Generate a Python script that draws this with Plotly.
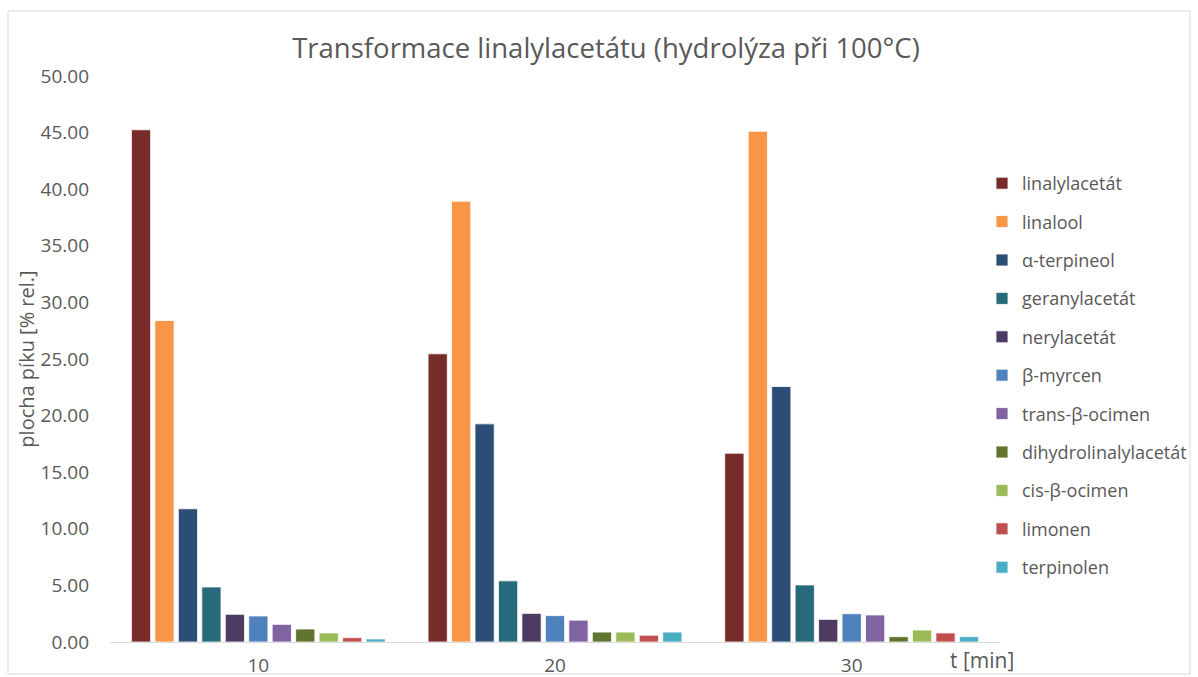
import plotly.graph_objects as go

# Reaction times (min)
times = ["10", "20", "30"]

# Peak areas (% rel.) per compound at each time
linalylacetat = [45.25, 25.46, 16.68]
linalool = [28.40, 38.94, 45.12]
alfa_terpineol = [11.77, 19.27, 22.57]
geranylacetat = [4.86, 5.40, 5.04]
nerylacetat = [2.45, 2.53, 2.00]
beta_myrcen = [2.30, 2.33, 2.50]
trans_beta_ocimen = [1.56, 1.93, 2.39]
dihydrolinalylacetat = [1.15, 0.88, 0.47]
cis_beta_ocimen = [0.80, 0.88, 1.06]
limonen = [0.38, 0.60, 0.80]
terpinolen = [0.27, 0.88, 0.47]

series = [
    ("linalylacetát", linalylacetat, "#772C2A"),
    ("linalool", linalool, "#F79646"),
    ("α-terpineol", alfa_terpineol, "#2C4D75"),
    ("geranylacetát", geranylacetat, "#276A7C"),
    ("nerylacetát", nerylacetat, "#4D3B62"),
    ("β-myrcen", beta_myrcen, "#4F81BD"),
    ("trans-β-ocimen", trans_beta_ocimen, "#8064A2"),
    ("dihydrolinalylacetát", dihydrolinalylacetat, "#5F7530"),
    ("cis-β-ocimen", cis_beta_ocimen, "#9BBB59"),
    ("limonen", limonen, "#C0504D"),
    ("terpinolen", terpinolen, "#4BACC6"),
]

FONT = "'Open Sans', sans-serif"
GRAY = "#595959"

fig = go.Figure()
for name, vals, color in series:
    fig.add_trace(go.Bar(
        x=times, y=vals, name=name, legendgroup=name,
        marker=dict(color=color, line=dict(color="rgba(255,255,255,0.8)", width=1)),
    ))

# plot area: x 110..1000 px, y 76..642 px
L, R, T, B = 110, 198, 76, 35
W, H = 1198, 677
pw, ph = W - L - R, H - T - B

def px_x(p):
    return (p - L) / pw

def px_y(p):
    return (H - B - p) / ph

fig.update_layout(
    width=W, height=H,
    margin=dict(l=L, r=R, t=T, b=B, autoexpand=False),
    paper_bgcolor="white", plot_bgcolor="white",
    barmode="group", bargap=0.13, bargroupgap=0.18,
    font=dict(family=FONT, color=GRAY, size=16),
    title=dict(
        text="Transformace linalylacetátu (hydrolýza při 100°C)",
        xref="container", x=606 / W, xanchor="center", y=1 - 48 / H, yanchor="middle",
        font=dict(size=27.5, color=GRAY, family=FONT),
    ),
    xaxis=dict(
        type="category", showgrid=False, showline=True, linecolor="#D9D9D9",
        linewidth=1, ticks="", tickfont=dict(size=19, color=GRAY),
        ticklabelstandoff=6, automargin=False,
    ),
    yaxis=dict(
        range=[0, 50], dtick=5, tickformat=".2f", showgrid=False,
        showline=False, zeroline=False, ticks="", automargin=False,
        tickfont=dict(size=19, color=GRAY), ticklabelstandoff=20,
        title=dict(text="plocha píku [% rel.]", font=dict(size=20, color=GRAY), standoff=0),
    ),
    legend=dict(
        x=px_x(982), xanchor="left", y=px_y(165), yanchor="top",
        font=dict(size=18, color=GRAY), tracegroupgap=12,
        bgcolor="rgba(0,0,0,0)",
    ),
    shapes=[dict(
        type="rect", xref="paper", yref="paper",
        x0=px_x(8), x1=px_x(1190), y0=px_y(674), y1=px_y(11),
        line=dict(color="#D9D9D9", width=1), fillcolor="rgba(0,0,0,0)", layer="below",
    )],
    annotations=[dict(
        text="t [min]", xref="paper", yref="paper",
        x=px_x(982), y=px_y(660), xanchor="center", yanchor="middle",
        showarrow=False, font=dict(size=21, color=GRAY),
    )],
)

fig.write_html("out.html")
